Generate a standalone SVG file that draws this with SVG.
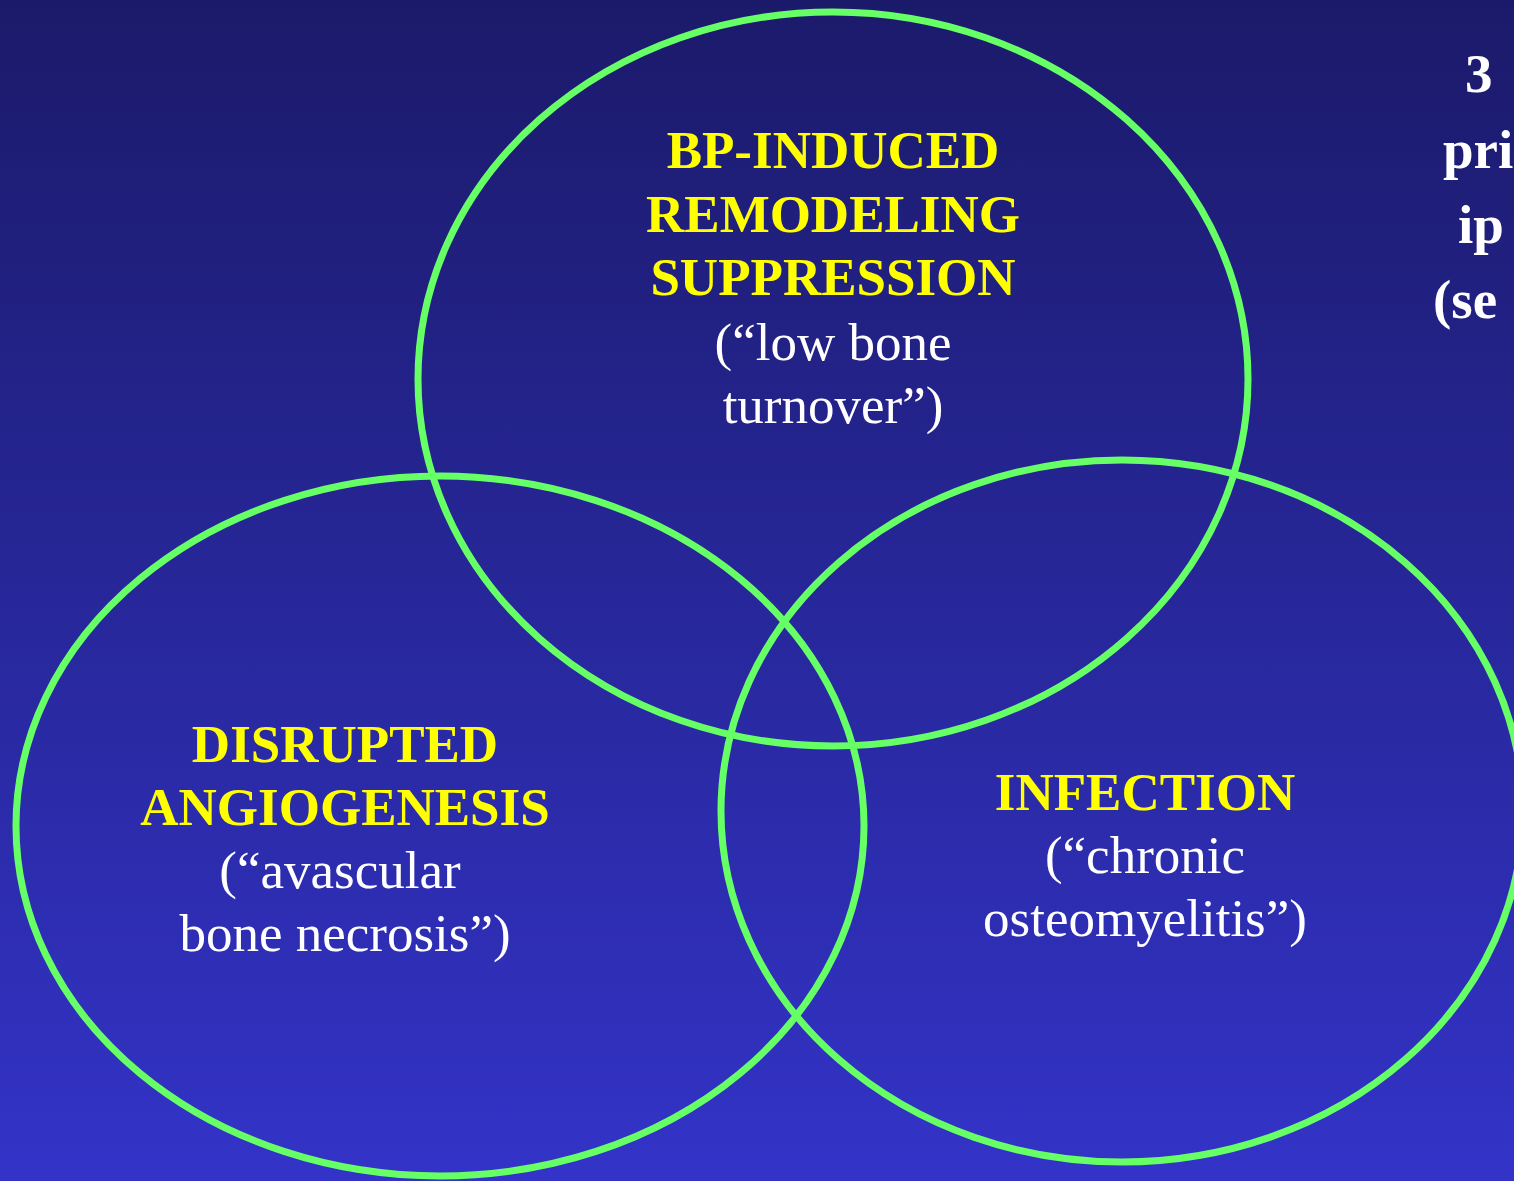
<svg xmlns="http://www.w3.org/2000/svg" width="1514" height="1181" viewBox="0 0 1514 1181">
<defs>
<linearGradient id="bg" x1="0" y1="0" x2="0" y2="1">
<stop offset="0" stop-color="#1b1a6a"/>
<stop offset="1" stop-color="#3333c8"/>
</linearGradient>
<style>
.ring{fill:none;stroke:#66ff66;stroke-width:7}
.t{font-family:"Liberation Serif","Times New Roman",serif;font-size:53px;text-anchor:middle}
.h{font-weight:bold;fill:#ffff00}
.s{fill:#ffffff}
.side{font-family:"Liberation Serif","Times New Roman",serif;font-size:55px;font-weight:bold;fill:#ffffff}
</style>
</defs>
<rect width="1514" height="1181" fill="url(#bg)"/>
<g id="connectors"></g>
<g id="node-top">
<ellipse class="ring" cx="833" cy="379" rx="415" ry="367"/>
<text class="t h" x="833" y="168">BP-INDUCED</text>
<text class="t h" x="833" y="232">REMODELING</text>
<text class="t h" x="833" y="295">SUPPRESSION</text>
<text class="t s" x="833" y="360">(“low bone</text>
<text class="t s" x="833" y="423">turnover”)</text>
</g>
<g id="node-left">
<ellipse class="ring" cx="440" cy="826" rx="424" ry="350"/>
<text class="t h" x="345" y="762">DISRUPTED</text>
<text class="t h" x="345" y="825">ANGIOGENESIS</text>
<text class="t s" x="340" y="888">(“avascular</text>
<text class="t s" x="345" y="951">bone necrosis”)</text>
</g>
<g id="node-right">
<ellipse class="ring" cx="1122" cy="811" rx="401" ry="351"/>
<text class="t h" x="1145" y="810">INFECTION</text>
<text class="t s" x="1145" y="873">(“chronic</text>
<text class="t s" x="1145" y="936">osteomyelitis”)</text>
</g>
<g id="side-text">
<text class="side" x="1465" y="92">3</text>
<text class="side" x="1443" y="168">pri</text>
<text class="side" x="1458" y="243">ip</text>
<text class="side" x="1433" y="318">(se</text>
</g>
</svg>
